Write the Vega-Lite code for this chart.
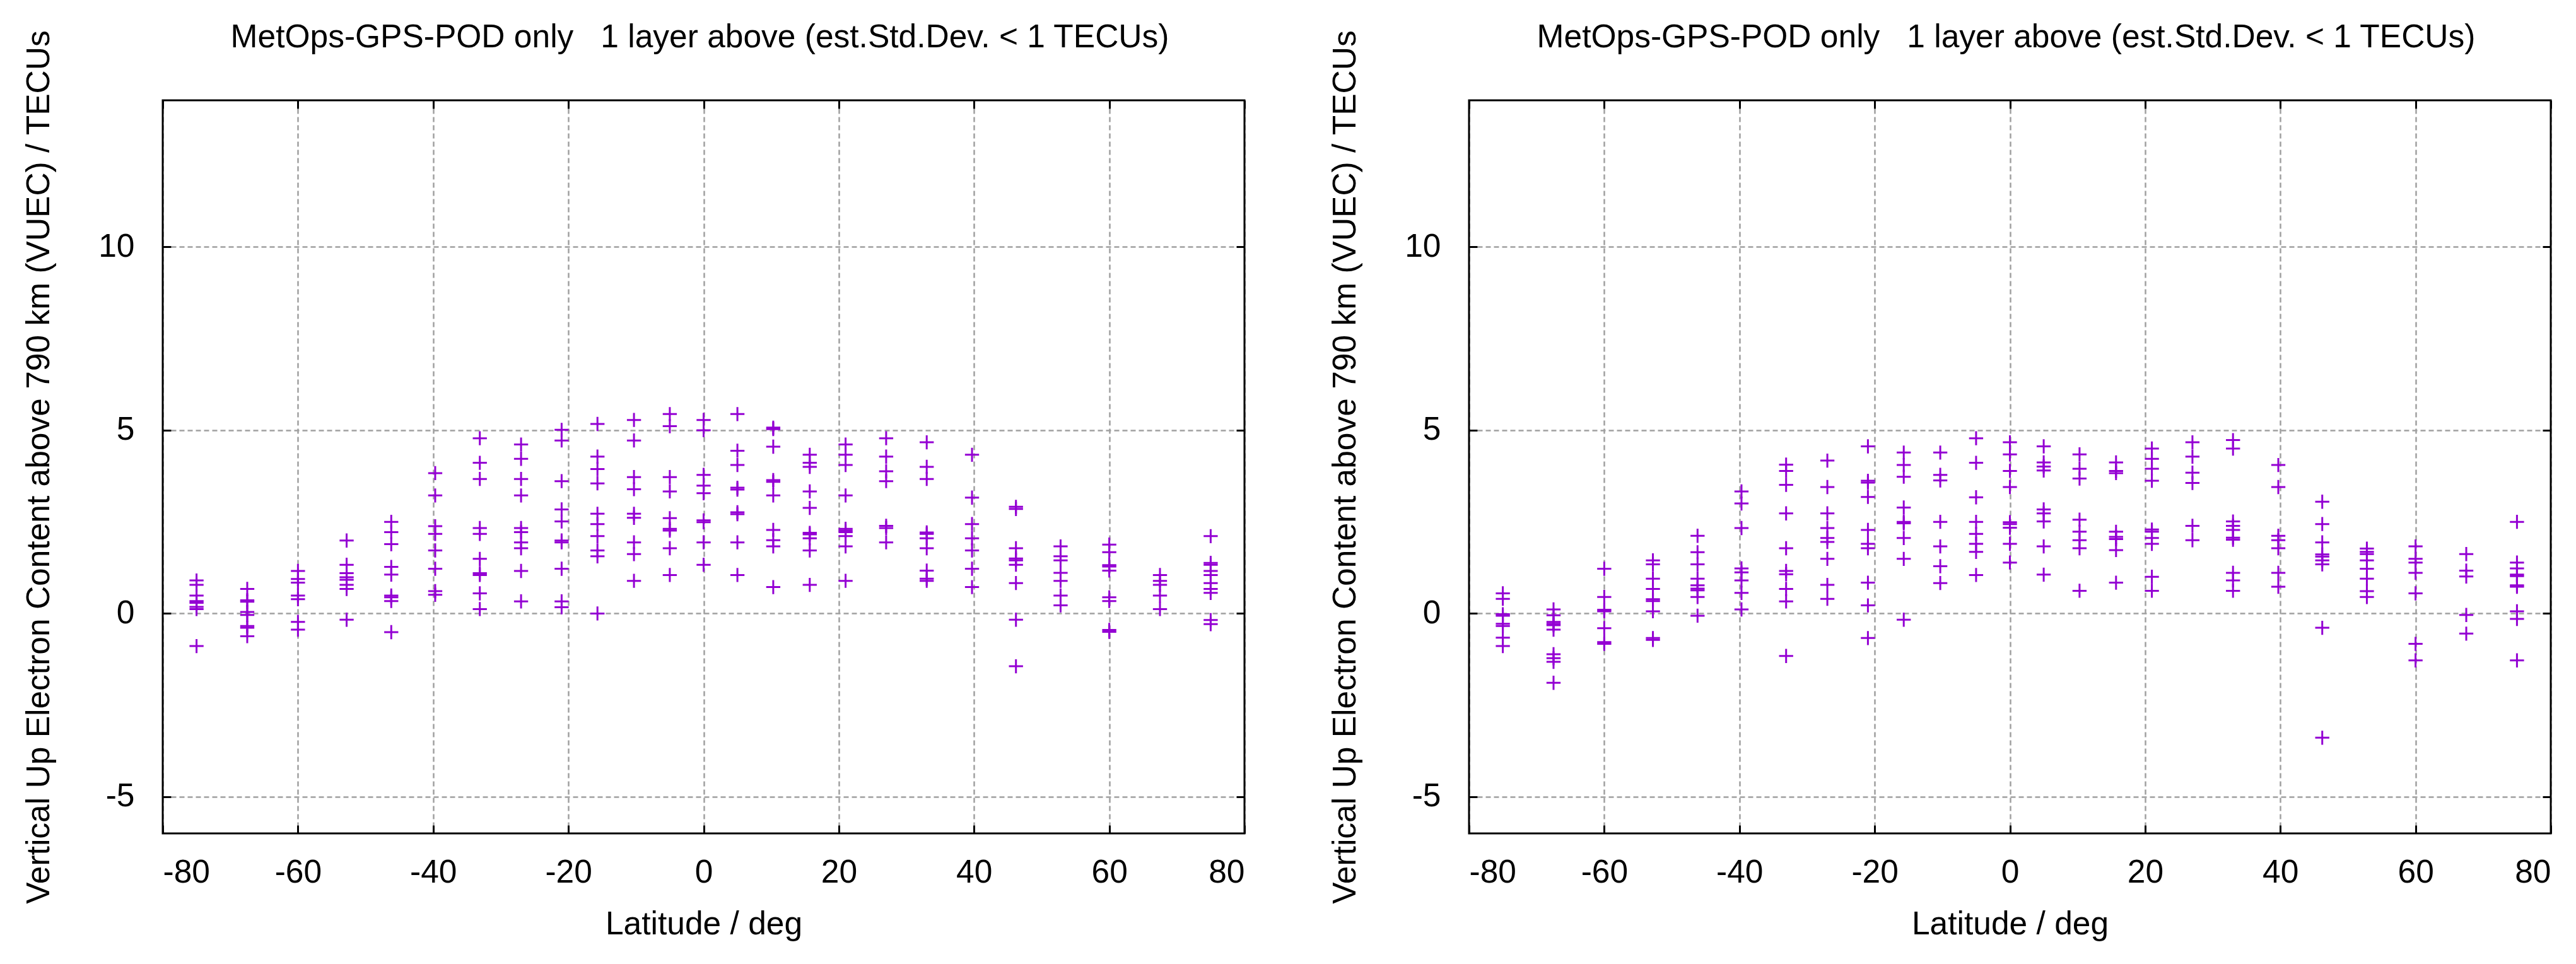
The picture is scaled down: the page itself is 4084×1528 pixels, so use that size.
{
  "$schema": "https://vega.github.io/schema/vega-lite/v6.json",
  "background": "white",
  "padding": {"left": 36, "top": 33, "right": 20, "bottom": 10},
  "spacing": 356,
  "bounds": "flush",
  "config": {
    "font": "Liberation Sans",
    "view": {"stroke": null},
    "axis": {
      "labelFont": "Liberation Sans", "labelFontSize": 51.5, "labelColor": "black",
      "titleFont": "Liberation Sans", "titleFontSize": 51.5, "titleFontWeight": "normal", "titleColor": "black",
      "domain": false, "tickColor": "black", "tickWidth": 3, "tickSize": -13,
      "gridColor": "#a0a0a0", "gridDash": [8, 5], "gridWidth": 2.5, "gridOpacity": 1
    },
    "title": {"font": "Liberation Sans", "fontSize": 51.5, "fontWeight": "normal", "color": "black", "offset": -38, "frame": "group", "anchor": "middle", "dx": -6}
  },
  "datasets": {
    "left": [
      {"lat": -75, "v": 0.90}, {"lat": -75, "v": 0.78}, {"lat": -75, "v": 0.49}, {"lat": -75, "v": 0.34}, {"lat": -75, "v": 0.29}, {"lat": -75, "v": 0.18}, {"lat": -75, "v": 0.12}, {"lat": -75, "v": -0.89},
      {"lat": -67.5, "v": 0.67}, {"lat": -67.5, "v": 0.36}, {"lat": -67.5, "v": 0.32}, {"lat": -67.5, "v": 0.04}, {"lat": -67.5, "v": -0.04}, {"lat": -67.5, "v": -0.34}, {"lat": -67.5, "v": -0.39}, {"lat": -67.5, "v": -0.62},
      {"lat": -60, "v": 1.16}, {"lat": -60, "v": 0.94}, {"lat": -60, "v": 0.84}, {"lat": -60, "v": 0.49}, {"lat": -60, "v": 0.39}, {"lat": -60, "v": -0.23}, {"lat": -60, "v": -0.44},
      {"lat": -52.8, "v": 1.99}, {"lat": -52.8, "v": 1.33}, {"lat": -52.8, "v": 1.10}, {"lat": -52.8, "v": 0.99}, {"lat": -52.8, "v": 0.92}, {"lat": -52.8, "v": 0.78}, {"lat": -52.8, "v": 0.67}, {"lat": -52.8, "v": -0.17},
      {"lat": -46.2, "v": 2.50}, {"lat": -46.2, "v": 2.22}, {"lat": -46.2, "v": 1.89}, {"lat": -46.2, "v": 1.27}, {"lat": -46.2, "v": 1.06}, {"lat": -46.2, "v": 0.49}, {"lat": -46.2, "v": 0.44}, {"lat": -46.2, "v": 0.34}, {"lat": -46.2, "v": -0.51},
      {"lat": -39.7, "v": 3.83}, {"lat": -39.7, "v": 3.22}, {"lat": -39.7, "v": 2.38}, {"lat": -39.7, "v": 2.17}, {"lat": -39.7, "v": 1.72}, {"lat": -39.7, "v": 1.22}, {"lat": -39.7, "v": 0.61}, {"lat": -39.7, "v": 0.51},
      {"lat": -33.1, "v": 4.78}, {"lat": -33.1, "v": 4.11}, {"lat": -33.1, "v": 3.67}, {"lat": -33.1, "v": 2.33}, {"lat": -33.1, "v": 2.17}, {"lat": -33.1, "v": 1.49}, {"lat": -33.1, "v": 1.10}, {"lat": -33.1, "v": 1.05}, {"lat": -33.1, "v": 0.55}, {"lat": -33.1, "v": 0.12},
      {"lat": -27, "v": 4.61}, {"lat": -27, "v": 4.22}, {"lat": -27, "v": 3.67}, {"lat": -27, "v": 3.22}, {"lat": -27, "v": 2.33}, {"lat": -27, "v": 2.22}, {"lat": -27, "v": 1.94}, {"lat": -27, "v": 1.78}, {"lat": -27, "v": 1.16}, {"lat": -27, "v": 0.33},
      {"lat": -21, "v": 5.01}, {"lat": -21, "v": 4.72}, {"lat": -21, "v": 3.61}, {"lat": -21, "v": 2.84}, {"lat": -21, "v": 2.51}, {"lat": -21, "v": 1.99}, {"lat": -21, "v": 1.94}, {"lat": -21, "v": 1.22}, {"lat": -21, "v": 0.33}, {"lat": -21, "v": 0.17},
      {"lat": -15.7, "v": 5.17}, {"lat": -15.7, "v": 4.28}, {"lat": -15.7, "v": 3.94}, {"lat": -15.7, "v": 3.55}, {"lat": -15.7, "v": 2.72}, {"lat": -15.7, "v": 2.44}, {"lat": -15.7, "v": 2.11}, {"lat": -15.7, "v": 1.72}, {"lat": -15.7, "v": 1.56}, {"lat": -15.7, "v": 0.0},
      {"lat": -10.3, "v": 5.28}, {"lat": -10.3, "v": 4.72}, {"lat": -10.3, "v": 3.72}, {"lat": -10.3, "v": 3.39}, {"lat": -10.3, "v": 2.72}, {"lat": -10.3, "v": 2.61}, {"lat": -10.3, "v": 1.94}, {"lat": -10.3, "v": 1.62}, {"lat": -10.3, "v": 0.89},
      {"lat": -5, "v": 5.44}, {"lat": -5, "v": 5.11}, {"lat": -5, "v": 3.72}, {"lat": -5, "v": 3.33}, {"lat": -5, "v": 2.60}, {"lat": -5, "v": 2.31}, {"lat": -5, "v": 2.26}, {"lat": -5, "v": 1.78}, {"lat": -5, "v": 1.05},
      {"lat": 0, "v": 5.28}, {"lat": 0, "v": 5.00}, {"lat": 0, "v": 3.78}, {"lat": 0, "v": 3.49}, {"lat": 0, "v": 3.28}, {"lat": 0, "v": 2.54}, {"lat": 0, "v": 2.49}, {"lat": 0, "v": 1.94}, {"lat": 0, "v": 1.33},
      {"lat": 5, "v": 5.44}, {"lat": 5, "v": 4.44}, {"lat": 5, "v": 4.05}, {"lat": 5, "v": 3.43}, {"lat": 5, "v": 3.38}, {"lat": 5, "v": 2.76}, {"lat": 5, "v": 2.71}, {"lat": 5, "v": 1.94}, {"lat": 5, "v": 1.05},
      {"lat": 10.3, "v": 5.07}, {"lat": 10.3, "v": 5.03}, {"lat": 10.3, "v": 4.55}, {"lat": 10.3, "v": 3.64}, {"lat": 10.3, "v": 3.59}, {"lat": 10.3, "v": 3.22}, {"lat": 10.3, "v": 2.28}, {"lat": 10.3, "v": 2.00}, {"lat": 10.3, "v": 1.83}, {"lat": 10.3, "v": 0.72},
      {"lat": 15.7, "v": 4.33}, {"lat": 15.7, "v": 4.11}, {"lat": 15.7, "v": 4.00}, {"lat": 15.7, "v": 3.33}, {"lat": 15.7, "v": 2.88}, {"lat": 15.7, "v": 2.20}, {"lat": 15.7, "v": 2.16}, {"lat": 15.7, "v": 2.05}, {"lat": 15.7, "v": 1.72}, {"lat": 15.7, "v": 0.78},
      {"lat": 21, "v": 4.61}, {"lat": 21, "v": 4.33}, {"lat": 21, "v": 4.05}, {"lat": 21, "v": 3.22}, {"lat": 21, "v": 2.31}, {"lat": 21, "v": 2.26}, {"lat": 21, "v": 2.22}, {"lat": 21, "v": 2.11}, {"lat": 21, "v": 1.83}, {"lat": 21, "v": 0.89},
      {"lat": 27, "v": 4.78}, {"lat": 27, "v": 4.28}, {"lat": 27, "v": 3.88}, {"lat": 27, "v": 3.61}, {"lat": 27, "v": 2.39}, {"lat": 27, "v": 2.33}, {"lat": 27, "v": 1.94},
      {"lat": 33, "v": 4.67}, {"lat": 33, "v": 4.00}, {"lat": 33, "v": 3.67}, {"lat": 33, "v": 2.21}, {"lat": 33, "v": 2.17}, {"lat": 33, "v": 2.05}, {"lat": 33, "v": 1.78}, {"lat": 33, "v": 1.17}, {"lat": 33, "v": 0.95}, {"lat": 33, "v": 0.89},
      {"lat": 39.7, "v": 4.33}, {"lat": 39.7, "v": 3.16}, {"lat": 39.7, "v": 2.44}, {"lat": 39.7, "v": 2.05}, {"lat": 39.7, "v": 1.72}, {"lat": 39.7, "v": 1.22}, {"lat": 39.7, "v": 0.72},
      {"lat": 46.2, "v": 2.91}, {"lat": 46.2, "v": 2.85}, {"lat": 46.2, "v": 1.78}, {"lat": 46.2, "v": 1.50}, {"lat": 46.2, "v": 1.45}, {"lat": 46.2, "v": 1.33}, {"lat": 46.2, "v": 0.83}, {"lat": 46.2, "v": -0.17}, {"lat": 46.2, "v": -1.44},
      {"lat": 52.8, "v": 1.83}, {"lat": 52.8, "v": 1.56}, {"lat": 52.8, "v": 1.45}, {"lat": 52.8, "v": 1.11}, {"lat": 52.8, "v": 0.89}, {"lat": 52.8, "v": 0.49}, {"lat": 52.8, "v": 0.22},
      {"lat": 60, "v": 1.88}, {"lat": 60, "v": 1.67}, {"lat": 60, "v": 1.32}, {"lat": 60, "v": 1.28}, {"lat": 60, "v": 1.17}, {"lat": 60, "v": 0.44}, {"lat": 60, "v": 0.34}, {"lat": 60, "v": -0.45}, {"lat": 60, "v": -0.50},
      {"lat": 67.5, "v": 1.05}, {"lat": 67.5, "v": 0.89}, {"lat": 67.5, "v": 0.78}, {"lat": 67.5, "v": 0.49}, {"lat": 67.5, "v": 0.12},
      {"lat": 75, "v": 2.11}, {"lat": 75, "v": 1.38}, {"lat": 75, "v": 1.33}, {"lat": 75, "v": 1.16}, {"lat": 75, "v": 1.05}, {"lat": 75, "v": 0.83}, {"lat": 75, "v": 0.67}, {"lat": 75, "v": 0.56}, {"lat": 75, "v": -0.18}, {"lat": 75, "v": -0.29}
    ],
    "right": [
      {"lat": -75, "v": 0.55}, {"lat": -75, "v": 0.40}, {"lat": -75, "v": -0.02}, {"lat": -75, "v": -0.06}, {"lat": -75, "v": -0.28}, {"lat": -75, "v": -0.34}, {"lat": -75, "v": -0.66}, {"lat": -75, "v": -0.89},
      {"lat": -67.5, "v": 0.11}, {"lat": -67.5, "v": -0.05}, {"lat": -67.5, "v": -0.23}, {"lat": -67.5, "v": -0.28}, {"lat": -67.5, "v": -0.32}, {"lat": -67.5, "v": -0.44}, {"lat": -67.5, "v": -1.11}, {"lat": -67.5, "v": -1.22}, {"lat": -67.5, "v": -1.32}, {"lat": -67.5, "v": -1.89},
      {"lat": -60, "v": 1.22}, {"lat": -60, "v": 0.45}, {"lat": -60, "v": 0.10}, {"lat": -60, "v": 0.06}, {"lat": -60, "v": -0.40}, {"lat": -60, "v": -0.78}, {"lat": -60, "v": -0.83},
      {"lat": -52.8, "v": 1.45}, {"lat": -52.8, "v": 1.34}, {"lat": -52.8, "v": 0.95}, {"lat": -52.8, "v": 0.67}, {"lat": -52.8, "v": 0.39}, {"lat": -52.8, "v": 0.34}, {"lat": -52.8, "v": 0.06}, {"lat": -52.8, "v": -0.67}, {"lat": -52.8, "v": -0.72},
      {"lat": -46.2, "v": 2.12}, {"lat": -46.2, "v": 1.67}, {"lat": -46.2, "v": 1.34}, {"lat": -46.2, "v": 0.95}, {"lat": -46.2, "v": 0.77}, {"lat": -46.2, "v": 0.68}, {"lat": -46.2, "v": 0.63}, {"lat": -46.2, "v": 0.45}, {"lat": -46.2, "v": -0.06},
      {"lat": -39.7, "v": 3.33}, {"lat": -39.7, "v": 3.00}, {"lat": -39.7, "v": 2.33}, {"lat": -39.7, "v": 1.23}, {"lat": -39.7, "v": 1.12}, {"lat": -39.7, "v": 0.90}, {"lat": -39.7, "v": 0.56}, {"lat": -39.7, "v": 0.11},
      {"lat": -33.1, "v": 4.06}, {"lat": -33.1, "v": 3.89}, {"lat": -33.1, "v": 3.51}, {"lat": -33.1, "v": 2.73}, {"lat": -33.1, "v": 1.78}, {"lat": -33.1, "v": 1.16}, {"lat": -33.1, "v": 1.07}, {"lat": -33.1, "v": 0.67}, {"lat": -33.1, "v": 0.33}, {"lat": -33.1, "v": -1.16},
      {"lat": -27, "v": 4.17}, {"lat": -27, "v": 3.45}, {"lat": -27, "v": 2.73}, {"lat": -27, "v": 2.33}, {"lat": -27, "v": 2.06}, {"lat": -27, "v": 1.95}, {"lat": -27, "v": 1.49}, {"lat": -27, "v": 0.78}, {"lat": -27, "v": 0.40},
      {"lat": -21, "v": 4.56}, {"lat": -21, "v": 3.62}, {"lat": -21, "v": 3.57}, {"lat": -21, "v": 3.18}, {"lat": -21, "v": 2.28}, {"lat": -21, "v": 1.90}, {"lat": -21, "v": 1.78}, {"lat": -21, "v": 0.84}, {"lat": -21, "v": 0.22}, {"lat": -21, "v": -0.67},
      {"lat": -15.7, "v": 4.39}, {"lat": -15.7, "v": 4.05}, {"lat": -15.7, "v": 3.73}, {"lat": -15.7, "v": 2.89}, {"lat": -15.7, "v": 2.50}, {"lat": -15.7, "v": 2.46}, {"lat": -15.7, "v": 2.06}, {"lat": -15.7, "v": 1.49}, {"lat": -15.7, "v": -0.17},
      {"lat": -10.3, "v": 4.39}, {"lat": -10.3, "v": 3.78}, {"lat": -10.3, "v": 3.63}, {"lat": -10.3, "v": 2.50}, {"lat": -10.3, "v": 1.83}, {"lat": -10.3, "v": 1.29}, {"lat": -10.3, "v": 0.83},
      {"lat": -5, "v": 4.78}, {"lat": -5, "v": 4.11}, {"lat": -5, "v": 3.17}, {"lat": -5, "v": 2.50}, {"lat": -5, "v": 2.17}, {"lat": -5, "v": 1.90}, {"lat": -5, "v": 1.68}, {"lat": -5, "v": 1.05},
      {"lat": 0, "v": 4.67}, {"lat": 0, "v": 4.34}, {"lat": 0, "v": 3.89}, {"lat": 0, "v": 3.45}, {"lat": 0, "v": 2.49}, {"lat": 0, "v": 2.44}, {"lat": 0, "v": 2.34}, {"lat": 0, "v": 1.90}, {"lat": 0, "v": 1.39},
      {"lat": 5, "v": 4.56}, {"lat": 5, "v": 4.12}, {"lat": 5, "v": 4.01}, {"lat": 5, "v": 3.90}, {"lat": 5, "v": 2.84}, {"lat": 5, "v": 2.73}, {"lat": 5, "v": 2.51}, {"lat": 5, "v": 1.83}, {"lat": 5, "v": 1.06},
      {"lat": 10.3, "v": 4.34}, {"lat": 10.3, "v": 3.95}, {"lat": 10.3, "v": 3.68}, {"lat": 10.3, "v": 2.56}, {"lat": 10.3, "v": 2.23}, {"lat": 10.3, "v": 2.00}, {"lat": 10.3, "v": 1.78}, {"lat": 10.3, "v": 0.62},
      {"lat": 15.7, "v": 4.12}, {"lat": 15.7, "v": 3.89}, {"lat": 15.7, "v": 3.83}, {"lat": 15.7, "v": 2.23}, {"lat": 15.7, "v": 2.09}, {"lat": 15.7, "v": 2.03}, {"lat": 15.7, "v": 1.73}, {"lat": 15.7, "v": 0.84},
      {"lat": 21, "v": 4.50}, {"lat": 21, "v": 4.22}, {"lat": 21, "v": 3.95}, {"lat": 21, "v": 3.62}, {"lat": 21, "v": 2.29}, {"lat": 21, "v": 2.23}, {"lat": 21, "v": 2.06}, {"lat": 21, "v": 1.90}, {"lat": 21, "v": 1.00}, {"lat": 21, "v": 0.62},
      {"lat": 27, "v": 4.67}, {"lat": 27, "v": 4.28}, {"lat": 27, "v": 3.84}, {"lat": 27, "v": 3.56}, {"lat": 27, "v": 2.39}, {"lat": 27, "v": 2.00},
      {"lat": 33, "v": 4.73}, {"lat": 33, "v": 4.50}, {"lat": 33, "v": 2.51}, {"lat": 33, "v": 2.39}, {"lat": 33, "v": 2.28}, {"lat": 33, "v": 2.07}, {"lat": 33, "v": 2.01}, {"lat": 33, "v": 1.11}, {"lat": 33, "v": 0.90}, {"lat": 33, "v": 0.62},
      {"lat": 39.7, "v": 4.05}, {"lat": 39.7, "v": 3.45}, {"lat": 39.7, "v": 2.12}, {"lat": 39.7, "v": 2.00}, {"lat": 39.7, "v": 1.78}, {"lat": 39.7, "v": 1.11}, {"lat": 39.7, "v": 0.73},
      {"lat": 46.2, "v": 3.05}, {"lat": 46.2, "v": 2.44}, {"lat": 46.2, "v": 1.94}, {"lat": 46.2, "v": 1.61}, {"lat": 46.2, "v": 1.55}, {"lat": 46.2, "v": 1.45}, {"lat": 46.2, "v": 1.34}, {"lat": 46.2, "v": -0.39}, {"lat": 46.2, "v": -3.39},
      {"lat": 52.8, "v": 1.77}, {"lat": 52.8, "v": 1.68}, {"lat": 52.8, "v": 1.62}, {"lat": 52.8, "v": 1.45}, {"lat": 52.8, "v": 1.22}, {"lat": 52.8, "v": 0.95}, {"lat": 52.8, "v": 0.61}, {"lat": 52.8, "v": 0.45},
      {"lat": 60, "v": 1.83}, {"lat": 60, "v": 1.49}, {"lat": 60, "v": 1.39}, {"lat": 60, "v": 1.11}, {"lat": 60, "v": 0.55}, {"lat": 60, "v": -0.83}, {"lat": 60, "v": -1.28},
      {"lat": 67.5, "v": 1.62}, {"lat": 67.5, "v": 1.17}, {"lat": 67.5, "v": 1.01}, {"lat": 67.5, "v": -0.04}, {"lat": 67.5, "v": -0.55},
      {"lat": 75, "v": 2.50}, {"lat": 75, "v": 1.39}, {"lat": 75, "v": 1.23}, {"lat": 75, "v": 1.06}, {"lat": 75, "v": 1.02}, {"lat": 75, "v": 0.77}, {"lat": 75, "v": 0.73}, {"lat": 75, "v": 0.06}, {"lat": 75, "v": -0.15}, {"lat": 75, "v": -1.28}
    ]
  },
  "hconcat": [
    {
      "width": 1715, "height": 1162,
      "title": {"text": "MetOps-GPS-POD only\u00a0\u00a0\u00a01 layer above (est.Std.Dev. < 1 TECUs)"},
      "layer": [
        {
          "data": {"name": "left"},
          "mark": {"type": "point", "shape": "M-1,0H1M0,-1V1", "filled": false, "size": 500, "strokeWidth": 3, "color": "#9400d3", "opacity": 1},
          "encoding": {
            "x": {"field": "lat", "type": "quantitative", "scale": {"domain": [-80, 80], "nice": false, "zero": false},
                  "axis": {"orient": "bottom", "values": [-80, -60, -40, -20, 0, 20, 40, 60, 80], "labelExpr": "'' + datum.value", "labelPadding": 49, "titlePadding": 31, "title": "Latitude / deg", "grid": true}},
            "y": {"field": "v", "type": "quantitative", "scale": {"domain": [-6, 14], "nice": false, "zero": false},
                  "axis": {"orient": "left", "values": [-5, 0, 5, 10], "labelExpr": "'' + datum.value", "labelPadding": 58, "titlePadding": 67, "title": "Vertical Up Electron Content above 790 km (VUEC) / TECUs", "grid": true}}
          }
        },
        {
          "data": {"values": [{}]},
          "mark": {"type": "rect", "fillOpacity": 0, "stroke": "black", "strokeWidth": 3},
          "encoding": {
            "x": {"datum": -80, "type": "quantitative", "axis": {"orient": "top", "values": [-80, -60, -40, -20, 0, 20, 40, 60, 80], "labels": false, "grid": false, "title": null}},
            "x2": {"datum": 80},
            "y": {"datum": -6, "type": "quantitative", "axis": {"orient": "right", "values": [-5, 0, 5, 10], "labels": false, "grid": false, "title": null}},
            "y2": {"datum": 14}
          }
        }
      ],
      "resolve": {"axis": {"x": "independent", "y": "independent"}}
    },
    {
      "width": 1715, "height": 1162,
      "title": {"text": "MetOps-GPS-POD only\u00a0\u00a0\u00a01 layer above (est.Std.Dev. < 1 TECUs)"},
      "layer": [
        {
          "data": {"name": "right"},
          "mark": {"type": "point", "shape": "M-1,0H1M0,-1V1", "filled": false, "size": 500, "strokeWidth": 3, "color": "#9400d3", "opacity": 1},
          "encoding": {
            "x": {"field": "lat", "type": "quantitative", "scale": {"domain": [-80, 80], "nice": false, "zero": false},
                  "axis": {"orient": "bottom", "values": [-80, -60, -40, -20, 0, 20, 40, 60, 80], "labelExpr": "'' + datum.value", "labelPadding": 49, "titlePadding": 31, "title": "Latitude / deg", "grid": true}},
            "y": {"field": "v", "type": "quantitative", "scale": {"domain": [-6, 14], "nice": false, "zero": false},
                  "axis": {"orient": "left", "values": [-5, 0, 5, 10], "labelExpr": "'' + datum.value", "labelPadding": 58, "titlePadding": 67, "title": "Vertical Up Electron Content above 790 km (VUEC) / TECUs", "grid": true}}
          }
        },
        {
          "data": {"values": [{}]},
          "mark": {"type": "rect", "fillOpacity": 0, "stroke": "black", "strokeWidth": 3},
          "encoding": {
            "x": {"datum": -80, "type": "quantitative", "axis": {"orient": "top", "values": [-80, -60, -40, -20, 0, 20, 40, 60, 80], "labels": false, "grid": false, "title": null}},
            "x2": {"datum": 80},
            "y": {"datum": -6, "type": "quantitative", "axis": {"orient": "right", "values": [-5, 0, 5, 10], "labels": false, "grid": false, "title": null}},
            "y2": {"datum": 14}
          }
        }
      ],
      "resolve": {"axis": {"x": "independent", "y": "independent"}}
    }
  ]
}
